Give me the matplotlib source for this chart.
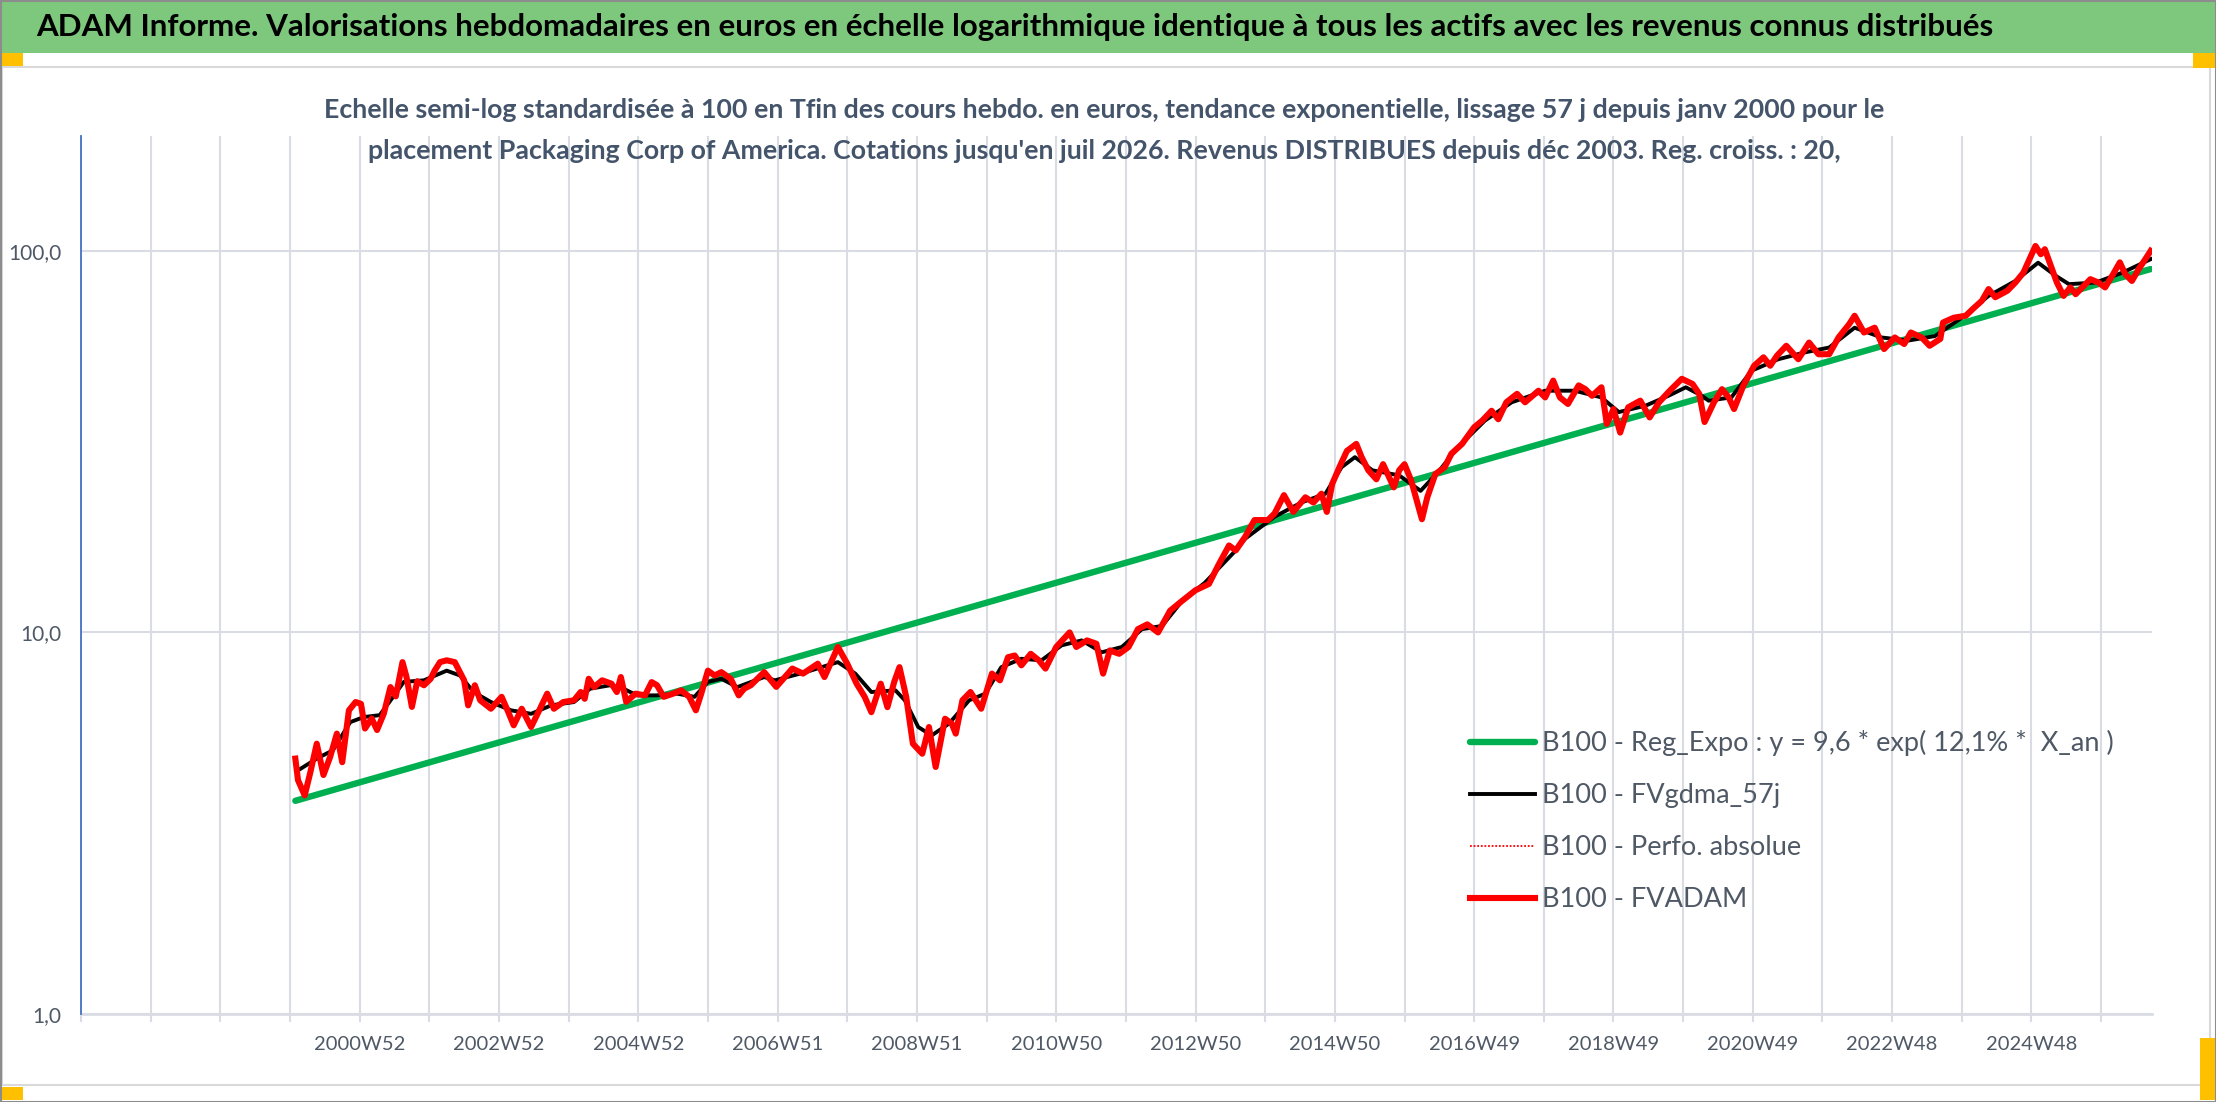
import matplotlib
matplotlib.use('Agg')
import matplotlib.pyplot as plt
from matplotlib.patches import Rectangle

# ---- texts
title = ("ADAM Informe. Valorisations hebdomadaires en euros en échelle logarithmique "
         "identique à tous les actifs avec les revenus connus distribués")
subtitle_1 = ("Echelle semi-log standardisée à 100 en Tfin des cours hebdo. en euros, "
              "tendance exponentielle, lissage 57 j depuis janv 2000 pour le")
subtitle_2 = ("placement Packaging Corp of America. Cotations jusqu'en juil 2026. "
              "Revenus DISTRIBUES depuis déc 2003. Reg. croiss. : 20,")
legend_labels = ["B100 - Reg_Expo : y = 9,6 * exp( 12,1% *  X_an )",
                 "B100 - FVgdma_57j",
                 "B100 - Perfo. absolue",
                 "B100 - FVADAM"]

# ---- axes (x = week index of the category axis)
n_weeks = 1546
grid_step = 52
x_label_weeks = [208, 312, 416, 520, 624, 728, 832, 936, 1040, 1144, 1248, 1352, 1456]
x_labels = ["2000W52", "2002W52", "2004W52", "2006W51", "2008W51", "2010W50", "2012W50",
            "2014W50", "2016W49", "2018W49", "2020W49", "2022W48", "2024W48"]
y_ticks = [1, 10, 100]
y_tick_labels = ["1,0", "10,0", "100,0"]

# ---- series
red_weeks = [160, 162, 167, 171, 176, 181, 186, 191, 195, 200, 205, 209, 212, 217, 221, 226,
             231, 235, 240, 243, 247, 251, 256, 261, 264, 268, 273, 279, 286, 289, 294, 298,
             306, 314, 319, 323, 329, 336, 341, 348, 353, 360, 368, 373, 376, 379, 383, 389,
             396, 400, 403, 407, 414, 421, 426, 430, 435, 442, 448, 454, 459, 463, 468, 473,
             478, 485, 491, 495, 500, 510, 519, 531, 539, 550, 555, 565, 572, 579, 585, 590,
             597, 602, 607, 611, 616, 621, 628, 633, 638, 645, 650, 653, 658, 664, 672, 680,
             686, 692, 697, 702, 709, 715, 720, 728, 738, 743, 751, 758, 763, 768, 775, 782,
             789, 796, 804, 813, 822, 832, 842, 849, 857, 862, 869, 876, 886, 891, 898, 905,
             914, 920, 926, 930, 934, 940, 945, 952, 956, 961, 967, 972, 980, 984, 988, 993,
             1001, 1005, 1011, 1018, 1023, 1031, 1040, 1046, 1053, 1058, 1064, 1072, 1078,
             1088, 1093, 1099, 1104, 1110, 1118, 1123, 1128, 1135, 1139, 1144, 1149, 1155,
             1164, 1171, 1178, 1186, 1195, 1203, 1208, 1212, 1219, 1225, 1230, 1234, 1241,
             1249, 1256, 1261, 1266, 1273, 1282, 1290, 1297, 1305, 1312, 1320, 1324, 1331,
             1339, 1346, 1354, 1361, 1366, 1374, 1380, 1388, 1390, 1398, 1407, 1412, 1419,
             1424, 1429, 1438, 1444, 1450, 1459, 1463, 1466, 1471, 1475, 1480, 1485, 1489,
             1495, 1500, 1506, 1511, 1517, 1522, 1526, 1531, 1536, 1541, 1545]
red_vals = [4.67, 4.10, 3.74, 4.27, 5.11, 4.23, 4.72, 5.43, 4.57, 6.25, 6.57, 6.50, 5.60, 5.95,
            5.55, 6.12, 7.19, 6.80, 8.36, 7.64, 6.38, 7.45, 7.27, 7.56, 7.94, 8.36, 8.45, 8.36,
            7.49, 6.44, 7.27, 6.64, 6.31, 6.78, 6.18, 5.71, 6.31, 5.65, 6.14, 6.91, 6.31, 6.57,
            6.64, 6.98, 6.70, 7.56, 7.19, 7.49, 7.34, 6.98, 7.64, 6.58, 6.91, 6.84, 7.41, 7.27,
            6.78, 6.91, 7.05, 6.78, 6.25, 6.91, 7.94, 7.71, 7.87, 7.56, 6.84, 7.12, 7.27, 7.87,
            7.20, 8.04, 7.80, 8.28, 7.64, 9.16, 8.28, 7.34, 6.78, 6.18, 7.34, 6.37, 7.41, 8.11,
            6.78, 5.11, 4.81, 5.65, 4.44, 5.94, 5.77, 5.43, 6.64, 6.98, 6.31, 7.80, 7.49, 8.61,
            8.70, 8.20, 8.79, 8.45, 8.04, 9.16, 10.0, 9.16, 9.53, 9.34, 7.80, 8.97, 8.79, 9.16,
            10.2, 10.5, 10.0, 11.4, 12.1, 12.9, 13.4, 15.0, 16.9, 16.4, 17.8, 19.7, 19.7, 20.5,
            22.9, 20.7, 22.6, 21.9, 23.1, 20.7, 24.5, 27.4, 29.9, 31.2, 28.8, 26.6, 25.2, 27.6,
            24.0, 26.6, 27.6, 25.0, 19.8, 22.6, 26.0, 27.1, 29.4, 31.2, 34.5, 35.9, 38.1, 36.2,
            40.1, 42.2, 40.1, 43.0, 41.3, 45.7, 41.3, 39.7, 44.4, 43.4, 41.7, 43.9, 35.2, 38.5,
            33.4, 38.9, 40.5, 36.6, 40.1, 43.0, 46.2, 44.8, 42.2, 35.6, 40.1, 43.4, 41.3, 38.5,
            44.4, 50.0, 52.6, 50.0, 53.1, 56.4, 52.0, 57.5, 53.6, 53.6, 59.3, 64.3, 67.6, 61.1,
            62.9, 55.3, 59.3, 57.0, 61.1, 59.3, 56.4, 58.8, 64.9, 66.8, 67.6, 70.3, 74.0, 79.4,
            75.6, 78.6, 82.6, 87.7, 103.0, 98.0, 101.0, 90.3, 82.6, 76.2, 80.2, 77.0, 80.9,
            84.3, 82.6, 80.2, 86.9, 93.3, 86.9, 83.4, 89.5, 95.1, 100.0]

black_weeks = [162, 176, 188, 201, 211, 223, 233, 241, 256, 273, 283, 293, 306, 321, 336, 351,
               368, 380, 395, 405, 415, 430, 445, 458, 468, 478, 490, 510, 518, 541, 565, 578,
               590, 608, 615, 625, 635, 648, 663, 675, 687, 702, 717, 732, 747, 762, 777, 792,
               807, 822, 839, 862, 869, 891, 911, 929, 941, 951, 964, 984, 1000, 1013, 1028,
               1048, 1068, 1093, 1115, 1135, 1148, 1168, 1185, 1198, 1210, 1215, 1232, 1247,
               1267, 1287, 1305, 1324, 1344, 1364, 1384, 1404, 1424, 1444, 1461, 1474, 1484,
               1504, 1524, 1545]
black_vals = [4.35, 4.67, 4.91, 5.82, 6.00, 6.07, 6.78, 7.42, 7.49, 7.94, 7.71, 6.98, 6.57,
              6.25, 6.12, 6.44, 6.57, 7.12, 7.27, 7.12, 6.84, 6.84, 6.91, 6.78, 7.42, 7.56,
              7.19, 7.64, 7.49, 7.87, 8.36, 7.80, 6.98, 7.05, 6.64, 5.65, 5.37, 5.77, 6.64,
              6.91, 8.11, 8.53, 8.45, 9.25, 9.53, 8.87, 9.16, 10.2, 10.4, 12.1, 13.5, 16.4,
              17.6, 20.1, 21.9, 23.1, 27.1, 28.8, 26.6, 25.8, 23.5, 26.3, 30.6, 35.9, 40.1,
              43.0, 43.0, 41.3, 37.8, 39.3, 41.7, 43.9, 41.7, 40.5, 41.3, 48.5, 52.0, 54.2,
              55.8, 62.9, 59.3, 58.2, 59.8, 66.8, 76.2, 83.4, 93.1, 86.1, 81.8, 82.6, 87.7, 95.1]

green_weeks = [160, 1545]
green_vals = [3.62, 89.6]

# ---- figure
W, H = 2216, 1102
fig = plt.figure(figsize=(W / 100, H / 100), dpi=100)
font = "Lato"
slate = "#44546A"
grey_txt = "#4F5966"
grid_col = "#D9DDE3"


def box(x0, y0, x1, y1, **kw):
    fig.patches.append(Rectangle((x0 / W, 1 - y1 / H), (x1 - x0) / W, (y1 - y0) / H,
                                 transform=fig.transFigure, figure=fig, **kw))


box(0, 0, W, 53, facecolor="#7DC87D", edgecolor="none", zorder=0)
box(2, 67, 2210, 1085, facecolor="none", edgecolor="#D9D9D9", lw=1.5, zorder=1)
box(0, 53, 23, 66, facecolor="#FFC000", edgecolor="none", zorder=2)
box(2193, 53, W, 68, facecolor="#FFC000", edgecolor="none", zorder=2)
box(0, 1087, 23, 1100, facecolor="#FFC000", edgecolor="none", zorder=2)
box(2200, 1038, W, 1100, facecolor="#FFC000", edgecolor="none", zorder=2)
box(0.5, 0.5, W - 0.5, H - 0.5, facecolor="none", edgecolor="#8C8C8C", lw=1.5, zorder=3)

renderer = fig.canvas.get_renderer()


def fit(t, width_px):
    w = t.get_window_extent(renderer).width
    t.set_fontsize(t.get_fontsize() * width_px / w)


t = fig.text(36 / W, 1 - 27 / H, title, ha="left", va="center", fontsize=22,
             fontweight="bold", family=font, color="black")
fit(t, 1952)
s1 = fig.text(1104 / W, 1 - 110 / H, subtitle_1, ha="center", va="center", fontsize=16,
              fontweight="bold", family=font, color=slate)
fit(s1, 1567)
fig.text(1104 / W, 1 - 151 / H, subtitle_2, ha="center", va="center",
         fontsize=s1.get_fontsize(), fontweight="bold", family=font, color=slate)

ax = fig.add_axes([81 / W, 1 - 1014 / H, (2152 - 81) / W, (1014 - 136) / H])
ax.set_yscale("log")
ax.set_ylim(1, 200)
ax.set_xlim(0, n_weeks)

ax.plot(green_weeks, green_vals, color="#00B050", lw=4.6, solid_capstyle="round",
        label=legend_labels[0], zorder=3)
ax.plot(black_weeks, black_vals, color="black", lw=2.8, label=legend_labels[1], zorder=4)
ax.plot(red_weeks, red_vals, color="red", lw=1.3, ls=(0, (1, 1)), label=legend_labels[2],
        zorder=4)
ax.plot(red_weeks, red_vals, color="red", lw=4.4, label=legend_labels[3], zorder=5,
        solid_joinstyle="round")

ax.set_yticks(y_ticks)
ax.set_yticklabels(y_tick_labels)
ax.yaxis.set_minor_locator(plt.NullLocator())
tick_pos = list(range(0, n_weeks + 1, grid_step))
lab = dict(zip(x_label_weeks, x_labels))
ax.set_xticks(tick_pos)
ax.set_xticklabels([lab.get(p, "") for p in tick_pos])

ax.grid(True, color=grid_col, lw=1.5)
ax.set_axisbelow(True)
ax.tick_params(axis="y", length=0, pad=14, labelsize=15, labelcolor=grey_txt)
ax.tick_params(axis="x", length=6, width=1.5, color=grid_col, pad=10, labelsize=14.5,
               labelcolor=grey_txt)
for lbl in ax.get_xticklabels() + ax.get_yticklabels():
    lbl.set_family(font)
for side in ("top", "right"):
    ax.spines[side].set_visible(False)
ax.spines["left"].set_color("#4472C4")
ax.spines["left"].set_linewidth(1.3)
ax.spines["left"].set_zorder(6)
ax.spines["bottom"].set_color(grid_col)
ax.spines["bottom"].set_linewidth(2)

leg = ax.legend(loc="upper left", bbox_to_anchor=(1470 / W, 1 - 730 / H),
                bbox_transform=fig.transFigure, frameon=False, borderpad=0,
                borderaxespad=0, handlelength=2.4, handletextpad=0.25, labelspacing=1.0,
                prop={"family": font, "size": 19.5})
for txt in leg.get_texts():
    txt.set_color(grey_txt)

fig.savefig("out.png", dpi=100)
